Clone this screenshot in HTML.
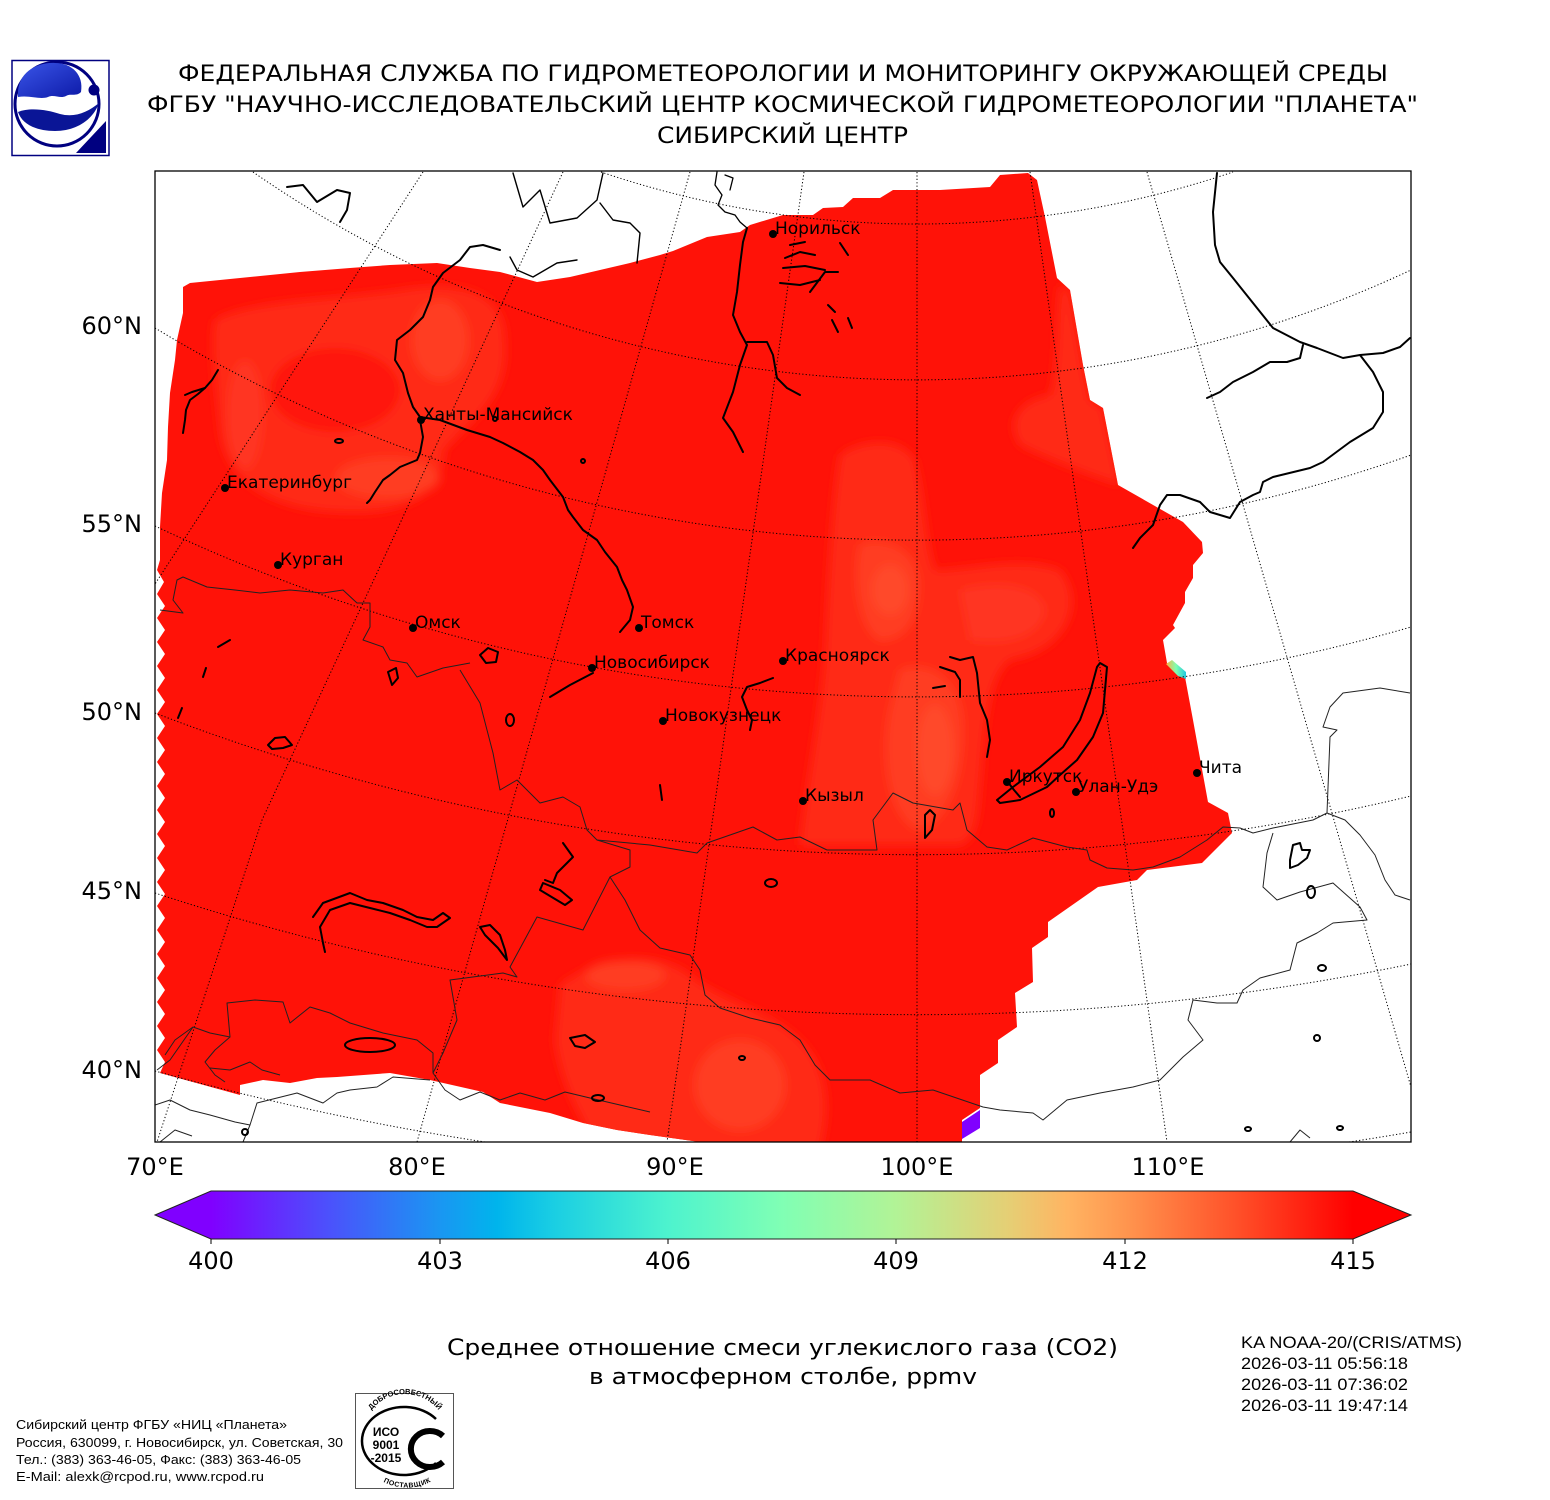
<!DOCTYPE html>
<html>
<head>
<meta charset="utf-8">
<style>
html,body{margin:0;padding:0;background:#fff;}
svg{display:block;}
.dj{font-family:"DejaVu Sans","Liberation Sans",sans-serif;}
.ar{font-family:"Liberation Sans","DejaVu Sans",sans-serif;}
</style>
</head>
<body>
<svg width="1550" height="1500" viewBox="0 0 1550 1500" xmlns="http://www.w3.org/2000/svg">
<defs>
  <linearGradient id="cb" x1="211" y1="0" x2="1353" y2="0" gradientUnits="userSpaceOnUse">
    <stop offset="0" stop-color="#8000ff"/>
    <stop offset="0.1" stop-color="rgb(77,79,252)"/>
    <stop offset="0.2" stop-color="rgb(26,150,242)"/>
    <stop offset="0.25" stop-color="rgb(0,180,236)"/>
    <stop offset="0.3" stop-color="rgb(26,206,227)"/>
    <stop offset="0.4" stop-color="rgb(77,243,206)"/>
    <stop offset="0.5" stop-color="rgb(128,255,180)"/>
    <stop offset="0.6" stop-color="rgb(178,243,150)"/>
    <stop offset="0.7" stop-color="rgb(230,206,116)"/>
    <stop offset="0.75" stop-color="rgb(255,180,98)"/>
    <stop offset="0.8" stop-color="rgb(255,150,79)"/>
    <stop offset="0.9" stop-color="rgb(255,79,40)"/>
    <stop offset="1" stop-color="rgb(255,0,0)"/>
  </linearGradient>
  <linearGradient id="cy" x1="0" y1="0" x2="1" y2="0">
    <stop offset="0" stop-color="#ffb040"/>
    <stop offset="0.5" stop-color="#80ffb0"/>
    <stop offset="1" stop-color="#20c8e0"/>
  </linearGradient>
  <linearGradient id="lg" x1="0" y1="0" x2="1" y2="1">
    <stop offset="0" stop-color="#3a55e8"/>
    <stop offset="1" stop-color="#0d1aa8"/>
  </linearGradient>
  <filter id="bl" x="-20%" y="-20%" width="140%" height="140%"><feGaussianBlur stdDeviation="5"/></filter>
  <clipPath id="frame"><rect x="155" y="171" width="1256" height="971"/></clipPath>
  <clipPath id="dataclip"><path id="dpath" d="M183,287 L190,283 L230,279 L250,277 L300,272 L350,268 L390,265 L437,263 L470,268 L500,272 L537,282 L570,277 L600,270 L630,263 L660,255 L673,251 L707,237 L740,232 L750,225 L783,215 L813,215 L823,208 L843,207 L853,198 L880,198 L893,190 L940,190 L990,187 L1000,175 L1028,173 L1037,180 L1045,217 L1057,278 L1070,290 L1083,365 L1090,400 L1103,408 L1118,485 L1183,522 L1202,542 L1203,553 L1193,565 L1193,578 L1185,592 L1185,603 L1173,625 L1175,628 L1163,640 L1167,663 L1185,677 L1193,720 L1208,802 L1228,813 L1232,833 L1202,863 L1147,870 L1137,880 L1098,887 L1048,922 L1048,937 L1032,948 L1033,982 L1015,993 L1017,1027 L998,1040 L998,1063 L980,1075 L980,1108 L962,1120 L962,1142 L700,1142 L650,1135 L617,1130 L583,1123 L550,1113 L500,1103 L483,1092 L430,1080 L390,1073 L337,1077 L317,1078 L290,1083 L263,1080 L240,1085 L240,1095 L160,1073 L165,1062 L157,1050 L165,1038 L157,1026 L165,1014 L157,1002 L165,990 L157,978 L165,966 L157,954 L165,942 L157,930 L165,918 L157,906 L165,894 L157,882 L165,870 L157,858 L165,846 L157,834 L165,822 L157,810 L165,798 L157,786 L165,774 L157,762 L165,750 L157,738 L165,726 L157,714 L165,702 L157,690 L165,678 L157,666 L165,654 L157,642 L165,630 L157,618 L165,606 L157,594 L164,582 L157,570 L160,560 L160,527 L162,493 L167,460 L168,427 L170,393 L175,360 L177,340 L183,313 Z"/></clipPath>
  <path id="isoTop" d="M364,1432 A40,37 0 0,1 446,1432"/>
  <path id="isoBot" d="M374,1468 A36,26 0 0,0 440,1468"/>
</defs>

<rect width="1550" height="1500" fill="#fff"/>

<!-- Logo -->
<rect x="12" y="60.5" width="97" height="95" fill="#fff" stroke="#000080" stroke-width="1.5"/>
<circle cx="57" cy="104" r="42" fill="none" stroke="#000080" stroke-width="3"/>
<path d="M18,95 C17,72 38,62 55,63 C72,63 84,75 81,92 C76,97 70,93 66,96 C60,99 54,94 48,97 C40,100 30,95 18,97 Z" fill="url(#lg)"/>
<path d="M18,112 C30,107 48,110 60,114 C75,118 88,112 99,103 C93,120 76,131 55,131 C36,131 22,124 18,112 Z" fill="#0a1596"/>
<circle cx="94" cy="90" r="5.5" fill="#000080"/>
<polygon points="76,153 106,153 106,121" fill="#000080"/>

<!-- Titles -->
<g class="dj" font-size="22.5" fill="#000" text-anchor="start">
  <text x="178" y="81" textLength="1210" lengthAdjust="spacingAndGlyphs">ФЕДЕРАЛЬНАЯ СЛУЖБА ПО ГИДРОМЕТЕОРОЛОГИИ И МОНИТОРИНГУ ОКРУЖАЮЩЕЙ СРЕДЫ</text>
  <text x="147" y="112" textLength="1271" lengthAdjust="spacingAndGlyphs">ФГБУ "НАУЧНО-ИССЛЕДОВАТЕЛЬСКИЙ ЦЕНТР КОСМИЧЕСКОЙ ГИДРОМЕТЕОРОЛОГИИ "ПЛАНЕТА"</text>
  <text x="657" y="143" textLength="251" lengthAdjust="spacingAndGlyphs">СИБИРСКИЙ ЦЕНТР</text>
</g>

<!-- Map -->
<g clip-path="url(#frame)">
  <use href="#dpath" fill="#ff1208"/>
  <g clip-path="url(#dataclip)">
    <g filter="url(#bl)">
      <path d="M215,320 C250,300 330,300 400,290 C460,280 505,290 505,340 C510,400 470,420 445,450 C440,500 400,515 340,512 C270,510 225,480 220,430 C215,380 210,340 215,320 Z" fill="#ff2a16"/>
      <ellipse cx="335" cy="390" rx="65" ry="42" fill="#ff1208"/>
      <ellipse cx="440" cy="340" rx="28" ry="40" fill="#ff3c22"/>
      <ellipse cx="388" cy="478" rx="52" ry="20" fill="#ff3c22"/>
      <ellipse cx="245" cy="415" rx="18" ry="55" fill="#ff3420"/>
      <path d="M840,455 C860,440 900,435 915,460 C925,500 925,540 935,570 C970,570 1020,555 1060,570 C1085,600 1070,650 1010,660 C985,680 985,740 980,790 C978,820 975,840 960,845 L800,845 C805,790 820,720 825,650 C828,580 832,500 840,455 Z" fill="#ff2c16"/>
      <path d="M860,545 C880,538 915,545 918,580 C920,620 905,640 880,640 C860,630 852,580 860,545 Z" fill="#ff3e22"/>
      <path d="M900,670 C930,660 960,680 962,720 C965,770 950,820 920,830 C890,820 880,760 890,710 Z" fill="#ff3e22"/>
      <path d="M960,590 C1000,580 1040,585 1045,610 C1040,640 1000,645 970,640 Z" fill="#ff3620"/>
      <ellipse cx="890" cy="590" rx="18" ry="25" fill="#ff4a2a"/>
      <ellipse cx="935" cy="750" rx="18" ry="45" fill="#ff4a2a"/>
      <path d="M560,985 C600,955 660,950 690,975 C720,1000 770,1010 800,1040 C830,1070 830,1110 820,1150 L600,1150 C580,1120 560,1080 555,1040 Z" fill="#ff2c16"/>
      <ellipse cx="625" cy="975" rx="40" ry="15" fill="#ff3e22"/>
      <ellipse cx="740" cy="1085" rx="45" ry="45" fill="#ff3e22"/>
      <path d="M1060,285 L1070,290 L1083,365 L1090,400 L1103,408 L1120,485 C1090,475 1050,460 1020,445 C1005,420 1020,400 1050,395 C1060,360 1055,320 1060,285 Z" fill="#ff2a16"/>
    </g>
  </g>
  <polygon points="1166,664 1172,660 1186,672 1186,679 1178,676" fill="url(#cy)"/>
  <polygon points="962,1122 980,1110 980,1128 962,1139" fill="#8000ff"/>

  <g fill="none" stroke="#000" stroke-width="1" stroke-dasharray="1.2,2.2">
    <line x1="423" y1="172" x2="155" y2="584"/>
    <polyline points="563,172 383,560 262,820 157,1142"/>
    <line x1="690" y1="172" x2="417" y2="1142"/>
    <line x1="804" y1="172" x2="667" y2="1142"/>
    <line x1="917" y1="172" x2="917" y2="1142"/>
    <line x1="1030" y1="172" x2="1167" y2="1142"/>
    <line x1="1147" y1="172" x2="1411" y2="1087"/>
    <path d="M601,172 A986,986 0 0,0 1233,172"/>
    <path d="M253,172 A1165,1165 0 0,0 1411,270"/>
    <path d="M155,328 A1475,1475 0 0,0 1411,455"/>
    <path d="M155,526 A1783,1783 0 0,0 1411,627"/>
    <path d="M155,713 A2115,2115 0 0,0 1411,796"/>
    <path d="M155,893 A2441,2441 0 0,0 1411,964"/>
    <path d="M155,1071 A2844,2844 0 0,0 485,1142"/>
    <path d="M1349,1142 A2844,2844 0 0,0 1411,1132"/>
  </g>

  <g fill="none" stroke="#222" stroke-width="1" stroke-linejoin="round">
    <polyline points="160,610 183,613 173,600 177,580 183,577 207,587 235,590 260,593 290,590 323,593 343,590 357,603 370,603 370,627 363,640 383,647 390,660 407,663 417,677 443,668 470,663"/>
    <polyline points="460,670 480,703 487,730 493,753 500,790 517,780 527,790 540,803 563,797 580,807 587,830 597,840 630,850 630,867 610,877 583,930 537,917 510,967 517,977 503,973 450,980 457,1020 443,1053 433,1073"/>
    <polyline points="597,840 650,845 697,853 707,843 730,835 753,827 777,840 800,837 827,850 877,850 873,820 893,793 913,803 953,810 960,803 967,830 987,847 1007,850 1033,838 1067,847 1087,850 1090,860 1107,868 1133,870 1153,867 1180,857 1207,840 1223,827 1240,828 1253,833 1273,828 1313,820 1327,813 1330,737 1337,730 1323,727 1330,707 1343,693 1380,688 1410,693"/>
    <polyline points="1273,833 1267,853 1263,887 1277,900 1300,892 1333,883 1360,907 1367,920 1333,923 1317,933 1297,943 1290,970 1260,978 1243,990 1237,1003 1217,1003 1193,1000 1188,1020 1203,1040 1183,1057 1160,1080 1133,1087 1100,1093 1067,1100 1043,1120 1033,1113 1000,1110 983,1107 933,1090 900,1093 870,1080 830,1080 815,1065 800,1040 780,1025 750,1018 720,1008 705,995 700,970 690,955 660,948 640,930 625,900 610,877"/>
    <polyline points="157,1070 170,1060 193,1027 210,1033 230,1037 227,1003 255,1000 283,1002 290,1023 310,1007 330,1013 350,1023 383,1033 417,1040 433,1053 433,1073 445,1090 460,1100 480,1092 500,1100 520,1093 545,1100 565,1092 590,1098 620,1105 650,1112"/>
    <polyline points="243,1142 250,1125 257,1103 297,1093 323,1103 337,1093 350,1090 377,1087 393,1077 430,1080"/>
    <polyline points="155,1105 170,1100 190,1110 210,1115 235,1122 250,1125"/>
    <polyline points="160,1142 175,1130 192,1136"/>
    <polyline points="193,1027 175,1040 165,1055"/>
    <polyline points="230,1037 215,1050 205,1062 215,1075 225,1082"/>
    <polyline points="210,1068 230,1070 250,1062 262,1070 280,1075"/>
    <polyline points="1327,813 1345,820 1360,835 1375,855 1385,880 1395,895 1410,900"/>
    <polyline points="1290,1142 1300,1130 1310,1138"/>
  </g>

  <g fill="none" stroke="#000" stroke-width="2" stroke-linejoin="round" stroke-linecap="round">
    <polyline points="500,250 483,245 470,247 460,260 443,273 438,280 433,287 430,300 423,317 410,330 397,340 395,360 403,373 408,393 413,407 420,417 440,420 467,430 490,437 503,443 520,452 533,460 543,470 550,480 563,497 568,510 573,517 583,530 597,540 605,552 617,567 622,580 627,590 633,607 630,620 620,632"/>
    <polyline points="420,420 423,437 420,453 417,460 400,467 390,475 383,480 375,492 370,500 367,503"/>
    <polyline points="218,370 212,380 205,388 198,394 190,400 186,410 185,420 183,433"/>
    <polyline points="205,388 192,392 185,395"/>
    <polyline points="747,228 743,242 740,265 737,292 733,315 740,332 747,345 740,365 733,392 723,418 733,432 743,452"/>
    <polyline points="747,342 767,342 773,355 777,378 787,388 800,395"/>
    <polyline points="717,172 715,185 722,195 718,205 725,212 735,215 740,222 747,228" stroke-width="1.3"/>
    <polyline points="725,175 733,178 730,190" stroke-width="1.3"/>
    <path d="M1100,663 L1107,667 L1105,690 L1103,713 L1093,737 L1077,760 L1060,775 L1047,787 L1020,800 L1000,803 L997,800 L1013,787 L1040,767 L1063,747 L1080,720 L1090,693 L1097,667 Z"/>
    <polyline points="1007,781 1014,790 1020,797"/>
    <polyline points="950,657 960,660 973,657 977,673 980,703 987,720 990,740 987,757"/>
    <polyline points="940,667 955,672 960,680 960,697"/>
    <polyline points="933,688 945,686"/>
    <polyline points="773,678 760,683 747,687 742,697 747,710 752,720 750,730"/>
    <polyline points="550,697 570,685 593,673"/>
    <polyline points="1217,173 1213,212 1215,245 1220,262 1233,278 1257,308 1273,328 1300,342 1317,348 1343,358 1360,355 1383,353 1400,347 1410,338"/>
    <polyline points="1360,355 1373,372 1383,392 1383,412 1373,428 1350,442 1323,462 1310,468 1273,477 1263,482 1260,492 1253,495 1240,502 1230,518 1210,512 1200,502 1180,495 1167,495 1160,505 1153,525 1140,538 1133,548"/>
    <polyline points="1303,345 1300,358 1287,362 1270,362 1253,372 1233,382 1220,392 1207,398"/>
    <polyline points="287,187 303,185 317,202 337,190 350,193 347,210 340,222"/>
    <polyline points="513,173 518,190 523,207 540,190 550,223 577,218 597,200 603,173" stroke-width="1.4"/>
    <polyline points="600,203 613,220 630,223 640,233 637,263" stroke-width="1.4"/>
    <polyline points="510,257 517,270 533,277 557,263 577,260" stroke-width="1.4"/>
    <polyline points="313,917 323,903 350,893 367,900 383,903 403,910 417,917 433,920 443,913 450,918 437,927 427,927 410,920 390,913 370,908 350,903 330,910 320,927 323,943 325,952"/>
    <ellipse cx="370" cy="1045" rx="25" ry="7"/>
    <path d="M480,927 L490,925 L500,935 L505,950 L507,960 L498,948 L485,935 Z"/>
    <polyline points="563,843 573,857 557,873 553,883 545,880"/>
    <path d="M543,883 L560,890 L572,900 L565,905 L540,890 Z"/>
    <polyline points="790,245 805,242"/>
    <polyline points="785,258 800,252 815,255"/>
    <polyline points="783,268 805,266 825,270"/>
    <polyline points="780,283 800,285 820,280"/>
    <polyline points="810,292 825,272 838,272"/>
    <polyline points="840,243 848,255"/>
    <polyline points="828,305 835,312"/>
    <polyline points="832,320 838,332"/>
    <polyline points="848,318 852,328"/>
    <polyline points="218,647 230,640"/>
    <polyline points="203,677 206,668"/>
    <polyline points="178,718 182,708"/>
    <path d="M268,745 L275,738 L285,737 L292,745 L283,748 L272,749 Z"/>
    <ellipse cx="339" cy="441" rx="4" ry="2"/>
    <ellipse cx="495" cy="419" rx="2" ry="2"/>
    <ellipse cx="583" cy="461" rx="2" ry="2"/>
    <path d="M480,655 L488,648 L498,652 L496,662 L486,663 Z"/>
    <path d="M388,672 L396,668 L398,678 L392,685 Z"/>
    <ellipse cx="510" cy="720" rx="4" ry="6"/>
    <path d="M1293,845 L1300,843 L1302,850 L1310,850 L1307,858 L1298,865 L1290,868 L1290,860 Z"/>
    <ellipse cx="1311" cy="892" rx="4" ry="6"/>
    <ellipse cx="771" cy="883" rx="6" ry="4"/>
    <ellipse cx="598" cy="1098" rx="6" ry="3"/>
    <ellipse cx="742" cy="1058" rx="3" ry="2"/>
    <polyline points="660,785 662,800"/>
    <path d="M570,1038 L585,1035 L595,1042 L585,1048 L575,1046 Z"/>
    <ellipse cx="1322" cy="968" rx="4" ry="3"/>
    <ellipse cx="1317" cy="1038" rx="3" ry="3"/>
    <ellipse cx="1248" cy="1129" rx="3" ry="2"/>
    <ellipse cx="1340" cy="1128" rx="3" ry="2"/>
    <path d="M925,815 L930,810 L935,815 L932,830 L925,838 Z"/>
    <ellipse cx="1052" cy="813" rx="2" ry="4"/>
    <ellipse cx="245" cy="1132" rx="3" ry="3"/>
  </g>

  <g fill="#000">
    <circle cx="773" cy="234" r="4"/>
    <circle cx="421" cy="420" r="4"/>
    <circle cx="225" cy="488" r="4"/>
    <circle cx="278" cy="565" r="4"/>
    <circle cx="413" cy="628" r="4"/>
    <circle cx="639" cy="628" r="4"/>
    <circle cx="592" cy="668" r="4"/>
    <circle cx="783" cy="661" r="4"/>
    <circle cx="663" cy="721" r="4"/>
    <circle cx="803" cy="801" r="4"/>
    <circle cx="1007" cy="782" r="4"/>
    <circle cx="1076" cy="792" r="4"/>
    <circle cx="1197" cy="773" r="4"/>
  </g>
  <g class="dj" font-size="17" fill="#000">
    <text x="775" y="234">Норильск</text>
    <text x="423" y="420">Ханты-Мансийск</text>
    <text x="227" y="488">Екатеринбург</text>
    <text x="280" y="565">Курган</text>
    <text x="415" y="628">Омск</text>
    <text x="641" y="628">Томск</text>
    <text x="594" y="668">Новосибирск</text>
    <text x="785" y="661">Красноярск</text>
    <text x="665" y="721">Новокузнецк</text>
    <text x="805" y="801">Кызыл</text>
    <text x="1009" y="782">Иркутск</text>
    <text x="1078" y="792">Улан-Удэ</text>
    <text x="1199" y="773">Чита</text>
  </g>
</g>
<rect x="155" y="171" width="1256" height="971" fill="none" stroke="#000" stroke-width="1.3"/>

<g class="dj" font-size="24" fill="#000">
  <g text-anchor="end">
    <text x="142" y="334">60°N</text>
    <text x="142" y="532">55°N</text>
    <text x="142" y="720">50°N</text>
    <text x="142" y="899">45°N</text>
    <text x="142" y="1078">40°N</text>
  </g>
  <g text-anchor="middle">
    <text x="155" y="1175">70°E</text>
    <text x="417" y="1175">80°E</text>
    <text x="675" y="1175">90°E</text>
    <text x="917" y="1175">100°E</text>
    <text x="1168" y="1175">110°E</text>
  </g>
</g>

<polygon points="155,1215 211,1191 211,1239" fill="#8000ff"/>
<polygon points="1411,1215 1353,1191 1353,1239" fill="#ff0000"/>
<rect x="211" y="1191" width="1142" height="48" fill="url(#cb)"/>
<polygon points="155,1215 211,1191 1353,1191 1411,1215 1353,1239 211,1239" fill="none" stroke="#222" stroke-width="1"/>
<g stroke="#000" stroke-width="1">
  <line x1="211" y1="1239" x2="211" y2="1244"/>
  <line x1="440" y1="1239" x2="440" y2="1244"/>
  <line x1="668" y1="1239" x2="668" y2="1244"/>
  <line x1="896" y1="1239" x2="896" y2="1244"/>
  <line x1="1125" y1="1239" x2="1125" y2="1244"/>
  <line x1="1353" y1="1239" x2="1353" y2="1244"/>
</g>
<g class="dj" font-size="24" fill="#000" text-anchor="middle">
  <text x="211" y="1269">400</text>
  <text x="440" y="1269">403</text>
  <text x="668" y="1269">406</text>
  <text x="896" y="1269">409</text>
  <text x="1125" y="1269">412</text>
  <text x="1353" y="1269">415</text>
</g>

<g class="dj" font-size="22" fill="#000">
  <text x="447" y="1355" textLength="671" lengthAdjust="spacingAndGlyphs">Среднее отношение смеси углекислого газа (CO2)</text>
  <text x="589" y="1384" textLength="388" lengthAdjust="spacingAndGlyphs">в атмосферном столбе, ppmv</text>
</g>

<g class="ar" font-size="17" fill="#000">
  <text x="1241" y="1348" textLength="221" lengthAdjust="spacingAndGlyphs">KA NOAA-20/(CRIS/ATMS)</text>
  <text x="1241" y="1369" textLength="167" lengthAdjust="spacingAndGlyphs">2026-03-11 05:56:18</text>
  <text x="1241" y="1390" textLength="167" lengthAdjust="spacingAndGlyphs">2026-03-11 07:36:02</text>
  <text x="1241" y="1411" textLength="167" lengthAdjust="spacingAndGlyphs">2026-03-11 19:47:14</text>
</g>

<g class="ar" font-size="13" fill="#000">
  <text x="16" y="1429" textLength="271" lengthAdjust="spacingAndGlyphs">Сибирский центр ФГБУ «НИЦ «Планета»</text>
  <text x="16" y="1447" textLength="327" lengthAdjust="spacingAndGlyphs">Россия, 630099, г. Новосибирск, ул. Советская, 30</text>
  <text x="16" y="1464" textLength="285" lengthAdjust="spacingAndGlyphs">Тел.: (383) 363-46-05, Факс: (383) 363-46-05</text>
  <text x="16" y="1481" textLength="248" lengthAdjust="spacingAndGlyphs">E-Mail: alexk@rcpod.ru, www.rcpod.ru</text>
</g>

<!-- ISO logo -->
<rect x="355.5" y="1393.5" width="98" height="95" fill="#fff" stroke="#555" stroke-width="1"/>
<path d="M436,1419 A42,34 0 1,0 436,1463" fill="none" stroke="#000" stroke-width="2.5"/>
<path d="M443,1436 A19,18 0 1,0 443,1462" fill="none" stroke="#000" stroke-width="6"/>
<g class="ar" font-weight="bold" fill="#000" text-anchor="middle">
  <text x="386" y="1436" font-size="12">ИСО</text>
  <text x="386" y="1449" font-size="12">9001</text>
  <text x="386" y="1462" font-size="12">-2015</text>
  <text font-size="7.5"><textPath href="#isoTop" startOffset="50%">ДОБРОСОВЕСТНЫЙ</textPath></text>
  <text font-size="7"><textPath href="#isoBot" startOffset="50%" dominant-baseline="hanging">ПОСТАВЩИК</textPath></text>
</g>
</svg>
</body>
</html>
